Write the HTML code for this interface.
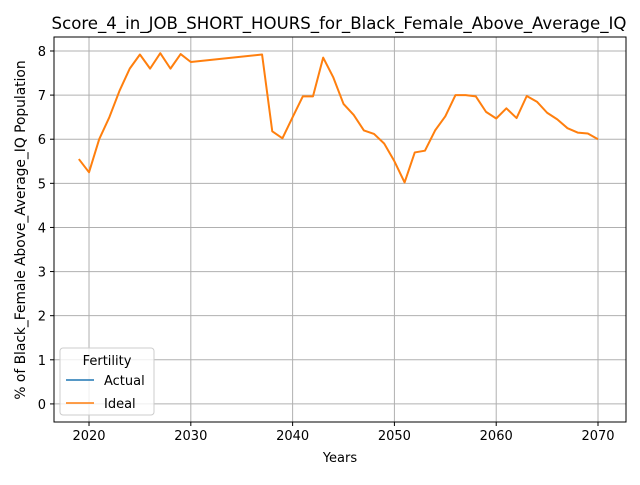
<!DOCTYPE html>
<html><head><meta charset="utf-8"><style>
body{margin:0;background:#fff;font-family:"Liberation Sans","DejaVu Sans",sans-serif;}
svg text{font-family:"DejaVu Sans","Liberation Sans",sans-serif;}
</style></head><body>
<svg id="chart" width="640" height="480">
<rect width="640" height="480" fill="#fff"/>
<g id="grid"></g>
<g id="lines"></g>
<rect x="54" y="37" width="572" height="385" fill="none" stroke="#000" stroke-width="1"/>
<g id="ticks"></g>
<text x="339" y="29" font-size="16.6" text-anchor="middle">Score_4_in_JOB_SHORT_HOURS_for_Black_Female_Above_Average_IQ</text>
<text x="340" y="462" font-size="13" text-anchor="middle">Years</text>
<text transform="translate(25,230) rotate(-90)" font-size="13.8" text-anchor="middle">% of Black_Female Above_Average_IQ Population</text>
<g>
<rect x="60" y="348" width="94" height="67" rx="3" fill="#fff" fill-opacity="0.8" stroke="#ccc"/>
<text x="107" y="365" font-size="13" text-anchor="middle">Fertility</text>
<line x1="66" y1="380" x2="94" y2="380" stroke="#1f77b4" stroke-width="1.5"/>
<text x="104" y="385" font-size="13">Actual</text>
<line x1="66" y1="403" x2="94" y2="403" stroke="#ff7f0e" stroke-width="1.5"/>
<text x="104" y="408" font-size="13">Ideal</text>
</g>
</svg>
<script>
const years=[2019,2020,2021,2022,2023,2024,2025,2026,2027,2028,2029,2030,2037,2038,2039,2040,2041,2042,2043,2044,2045,2046,2047,2048,2049,2050,2051,2052,2053,2054,2055,2056,2057,2058,2059,2060,2061,2062,2063,2064,2065,2066,2067,2068,2069,2070];
const ideal=[5.55,5.25,6.0,6.5,7.1,7.6,7.92,7.6,7.95,7.6,7.93,7.75,7.92,6.18,6.02,6.5,6.97,6.97,7.85,7.4,6.8,6.55,6.2,6.12,5.9,5.5,5.02,5.7,5.74,6.2,6.52,7.0,7.0,6.97,6.62,6.47,6.7,6.48,6.98,6.85,6.6,6.45,6.25,6.15,6.13,6.0];
const actual=[];
const xTicks=[2020,2030,2040,2050,2060,2070];
const yTicks=[0,1,2,3,4,5,6,7,8];
const X0=2016.56,X1=2072.75,Y0=-0.41,Y1=8.317;
const sx=v=>54+(v-X0)/(X1-X0)*572;
const sy=v=>422-(v-Y0)/(Y1-Y0)*385;
const NS="http://www.w3.org/2000/svg";
const grid=document.getElementById('grid'),ticks=document.getElementById('ticks'),lines=document.getElementById('lines');
function mk(t,a,p){const e=document.createElementNS(NS,t);for(const k in a)e.setAttribute(k,a[k]);p.appendChild(e);return e;}
xTicks.forEach(t=>{const x=sx(t);
const g=mk('line',{x1:x,x2:x,y1:37,y2:422,stroke:'#b0b0b0','stroke-width':1},grid);


const k=mk('line',{x1:x,x2:x,y1:422,y2:426,stroke:'#000'},ticks);


const l=mk('text',{x:x,y:440,'font-size':13,'text-anchor':'middle'},ticks);l.textContent=t;

});
yTicks.forEach(t=>{const y=sy(t);
const g=mk('line',{x1:54,x2:626,y1:y,y2:y,stroke:'#b0b0b0','stroke-width':1},grid);


const k=mk('line',{x1:50,x2:54,y1:y,y2:y,stroke:'#000'},ticks);


const l=mk('text',{x:46,y:y+5,'font-size':13,'text-anchor':'end'},ticks);l.textContent=t;

});
const p=mk('polyline',{points:years.map((y,i)=>sx(y)+','+sy(ideal[i])).join(' '),fill:'none',stroke:'#ff7f0e','stroke-width':2,'stroke-linejoin':'round'},lines);


if(actual.length){const a=mk('polyline',{points:years.map((y,i)=>sx(y)+','+sy(actual[i])).join(' '),fill:'none',stroke:'#1f77b4','stroke-width':2},lines);

}
</script>
</body></html>
